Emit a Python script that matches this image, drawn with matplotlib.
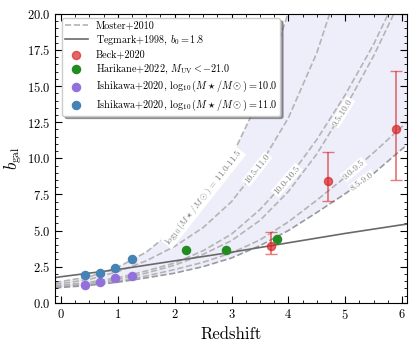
import numpy as np
import matplotlib
matplotlib.use('Agg')
from matplotlib import pyplot as plt

plt.rcParams['font.family'] = 'serif'
plt.rcParams['font.serif'] = ['cmr10']
plt.rcParams['mathtext.fontset'] = 'cm'
plt.rcParams['axes.formatter.use_mathtext'] = True

# Moster+2010 bias curves
z_mod = [-0.1, 0.0, 0.5, 1.0, 1.5, 2.0, 2.5, 3.0, 3.5, 4.0, 4.5, 5.0, 5.5, 6.0, 6.1]
b_110_115 = [1.42, 1.47, 1.80, 2.45, 3.50, 5.10, 7.30, 10.1, 14.2, 20.1, 28.4, 40.0, 56.0, 79.0, 85.0]
b_105_110 = [1.29, 1.33, 1.62, 2.15, 2.90, 3.90, 5.20, 7.00, 9.50, 12.8, 17.3, 23.3, 31.0, 41.0, 43.0]
b_100_105 = [1.18, 1.22, 1.42, 1.73, 2.20, 2.75, 3.60, 4.75, 6.45, 8.60, 11.3, 14.4, 17.9, 22.0, 22.9]
b_095_100 = [1.14, 1.17, 1.35, 1.62, 2.05, 2.60, 3.35, 4.30, 5.70, 7.70, 10.3, 13.5, 17.1, 21.2, 22.1]
b_090_095 = [1.08, 1.11, 1.26, 1.50, 1.85, 2.30, 2.80, 3.45, 4.35, 5.60, 7.10, 8.70, 10.4, 12.2, 12.55]
b_085_090 = [1.03, 1.06, 1.20, 1.42, 1.72, 2.05, 2.50, 3.10, 3.95, 5.00, 6.25, 7.55, 8.95, 10.65, 10.95]
mod_names = ['11.0-11.5', '10.5-11.0', '10.0-10.5', '9.5-10.0', '9.0-9.5', '8.5-9.0']
mod_label_z = [2.5, 3.45, 3.97, 4.95, 5.15, 5.3]

# Tegmark+1998
z_teg = [-0.1, 0.0, 1.0, 2.0, 3.0, 4.0, 5.0, 6.0, 6.1]
b_teg = [1.74, 1.80, 2.30, 2.90, 3.50, 4.15, 4.80, 5.40, 5.45]

# Beck+2020
z_beck = [3.7, 4.7, 5.9]
b_beck = [3.95, 8.4, 12.0]
beck_lo = [0.55, 1.35, 3.5]
beck_hi = [0.95, 2.05, 4.05]

# Harikane+2022
z_har = [2.2, 2.9, 3.8]
b_har = [3.62, 3.68, 4.40]
har_err = [0.12, 0.12, 0.12]

# Ishikawa+2020
z_ish = [0.43, 0.68, 0.95, 1.25]
b_ish10 = [1.25, 1.42, 1.69, 1.85]
err_ish10 = [0.08, 0.08, 0.1, 0.1]
b_ish11 = [1.92, 2.04, 2.43, 3.01]
err_ish11 = [0.1, 0.1, 0.12, 0.18]

fig = plt.figure(figsize=(4.15, 3.46), dpi=100)
ax = fig.add_axes([0.133, 0.125, 0.847, 0.835])
ax.set_xlim(-0.1, 6.08)
ax.set_ylim(0, 20)

curves = [b_110_115, b_105_110, b_100_105, b_095_100, b_090_095, b_085_090]
ax.fill_between(z_mod, b_085_090, b_110_115, color='lavender', alpha=0.65, lw=0, zorder=0)
for i, c in enumerate(curves):
    col = '#9a9a9a' if i == 5 else '#b4b4b4'
    ax.plot(z_mod, c, ls='--', color=col, lw=1.2, zorder=1,
            label='Moster+2010' if i == 0 else None)

ax.plot(z_teg, b_teg, '-', color='dimgray', lw=1.2, zorder=2,
        label=r'Tegmark+1998, $b_0 = 1.8$')

# inline labels on the model curves
for name, zl, c in zip(mod_names, mod_label_z, curves):
    bl = np.interp(zl, z_mod, c)
    p1 = ax.transData.transform((zl - 0.05, np.interp(zl - 0.05, z_mod, c)))
    p2 = ax.transData.transform((zl + 0.05, np.interp(zl + 0.05, z_mod, c)))
    ang = np.degrees(np.arctan2(p2[1] - p1[1], p2[0] - p1[0]))
    txt = name
    if name == '11.0-11.5':
        txt = r'$\log_{10}(M\star/M\odot)$ = ' + name
    ax.text(zl, bl, txt, rotation=ang, rotation_mode='anchor', ha='center', va='center',
            fontsize=6.5, color='gray', zorder=3,
            bbox=dict(boxstyle='square,pad=0.1', fc='white', ec='none'))

ax.errorbar(z_beck, b_beck, yerr=[beck_lo, beck_hi], fmt='none', ecolor='tab:red',
            alpha=0.6, capsize=4, lw=1.3, zorder=4)
ax.scatter(z_beck, b_beck, color='tab:red', alpha=0.7, s=34, zorder=5, label='Beck+2020')

ax.errorbar(z_har, b_har, yerr=har_err, fmt='none', ecolor='forestgreen', capsize=2,
            lw=1, zorder=4)
ax.scatter(z_har, b_har, color='forestgreen', s=34, zorder=5,
           label=r'Harikane+2022, $M_{\rm UV} < -21.0$')

ax.errorbar(z_ish, b_ish10, yerr=err_ish10, fmt='none', ecolor='mediumpurple', capsize=2,
            lw=1, zorder=4)
ax.scatter(z_ish, b_ish10, color='mediumpurple', s=34, zorder=5,
           label=r'Ishikawa+2020, $\log_{10}(M\star/M\odot) = 10.0$')
ax.errorbar(z_ish, b_ish11, yerr=err_ish11, fmt='none', ecolor='steelblue', capsize=2,
            lw=1, zorder=4)
ax.scatter(z_ish, b_ish11, color='steelblue', s=34, zorder=5,
           label=r'Ishikawa+2020, $\log_{10}(M\star/M\odot) = 11.0$')

ax.set_xticks(range(0, 7))
ax.set_xticks(np.arange(0, 6.1, 0.25), minor=True)
ax.set_yticks(np.arange(0, 20.1, 2.5))
ax.set_yticks(np.arange(0, 20.1, 0.5), minor=True)
ax.tick_params(which='both', direction='in', top=True, right=True, labelsize=9)
ax.tick_params(which='major', length=5)
ax.tick_params(which='minor', length=2.5)

ax.set_xlabel('Redshift', fontsize=12)
ax.set_ylabel(r'$b_{\rm gal}$', fontsize=12, labelpad=2)

ax.legend(loc='upper left', bbox_to_anchor=(0.02, 0.985), borderaxespad=0,
          fontsize=7.3, fancybox=True, shadow=True, framealpha=1,
          borderpad=0.3, labelspacing=0.3, handlelength=2.2)

fig.savefig('out.png', dpi=100)
